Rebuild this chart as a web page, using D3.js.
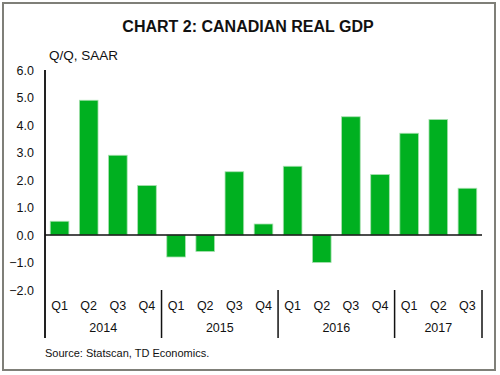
<!DOCTYPE html>
<html lang="en">
<head>
<meta charset="UTF-8">
<title>Chart 2: Canadian Real GDP</title>
<script src="https://cdnjs.cloudflare.com/ajax/libs/d3/7.9.0/d3.min.js"></script>
<style>
    body { margin: 0; background: white; }
    svg text { font-family: "Liberation Sans", Arial, sans-serif; fill: #111; }
</style>
</head>
<body>
<svg id="chart" width="500" height="375"></svg>
<script>
    // data
    const quarters = ['Q1', 'Q2', 'Q3', 'Q4', 'Q1', 'Q2', 'Q3', 'Q4', 'Q1', 'Q2', 'Q3', 'Q4', 'Q1', 'Q2', 'Q3'];
    const years = ['2014', '2015', '2016', '2017'];
    const yearCounts = [4, 4, 4, 3];
    const gdp = [0.5, 4.9, 2.9, 1.8, -0.8, -0.6, 2.3, 0.4, 2.5, -1.0, 4.3, 2.2, 3.7, 4.2, 1.7];
    const yTicks = [6, 5, 4, 3, 2, 1, 0, -1, -2];

    const svg = d3.select('#chart');

    // outer frame
    svg.append('rect')
        .attr('x', 3).attr('y', 3).attr('width', 492).attr('height', 367)
        .attr('fill', 'white').attr('stroke', '#7f7f78').attr('stroke-width', 2);

    svg.append('text')
        .attr('x', 248).attr('y', 32)
        .attr('text-anchor', 'middle')
        .style('font-size', '16px').style('font-weight', 'bold')
        .text('CHART 2: CANADIAN REAL GDP');

    svg.append('text')
        .attr('x', 49).attr('y', 60)
        .style('font-size', '13.5px')
        .text('Q/Q, SAAR');

    const x = d3.scaleBand()
        .domain(d3.range(gdp.length))
        .range([45, 482])
        .paddingInner(0.36).paddingOuter(0.18);

    const y = d3.scaleLinear().domain([-2, 6]).range([290, 70]);

    // bars
    svg.append('g').selectAll('rect')
        .data(gdp)
        .join('rect')
        .attr('x', (d, i) => x(i))
        .attr('width', x.bandwidth())
        .attr('y', d => y(Math.max(0, d)))
        .attr('height', d => Math.abs(y(d) - y(0)))
        .attr('fill', '#00b020')
        .attr('stroke', '#a8e0b0').attr('stroke-width', 0.8);

    // y labels
    svg.append('g').selectAll('text')
        .data(yTicks)
        .join('text')
        .attr('x', 34).attr('y', d => y(d) + 4.5)
        .attr('text-anchor', 'end')
        .style('font-size', '12.5px')
        .text(d => d3.format('.1f')(d));

    // y axis line
    svg.append('line')
        .attr('x1', 45).attr('x2', 45).attr('y1', 70).attr('y2', 338)
        .attr('stroke', '#222').attr('stroke-width', 2);

    // zero line
    svg.append('line')
        .attr('x1', 45).attr('x2', 482).attr('y1', y(0)).attr('y2', y(0))
        .attr('stroke', '#111').attr('stroke-width', 1.5);

    // quarter labels
    svg.append('g').selectAll('text')
        .data(quarters)
        .join('text')
        .attr('x', (d, i) => x(i) + x.bandwidth() / 2)
        .attr('y', 310)
        .attr('text-anchor', 'middle')
        .style('font-size', '12.5px')
        .text(d => d);

    // year groups and separators
    const unit = 437 / gdp.length;
    const starts = yearCounts.map((c, i) => d3.sum(yearCounts.slice(0, i)));
    const bounds = starts.concat([gdp.length]);
    svg.append('g').selectAll('line')
        .data(bounds.slice(1))
        .join('line')
        .attr('x1', d => 45 + d * unit)
        .attr('x2', d => 45 + d * unit)
        .attr('y1', 290).attr('y2', 338)
        .attr('stroke', '#111').attr('stroke-width', 1.5);

    svg.append('g').selectAll('text')
        .data(years)
        .join('text')
        .attr('x', (d, i) => 45 + (starts[i] + yearCounts[i] / 2) * unit)
        .attr('y', 332)
        .attr('text-anchor', 'middle')
        .style('font-size', '12.5px')
        .text(d => d);

    svg.append('text')
        .attr('x', 45).attr('y', 357)
        .style('font-size', '11px')
        .text('Source: Statscan, TD Economics.');
</script>
</body>
</html>
